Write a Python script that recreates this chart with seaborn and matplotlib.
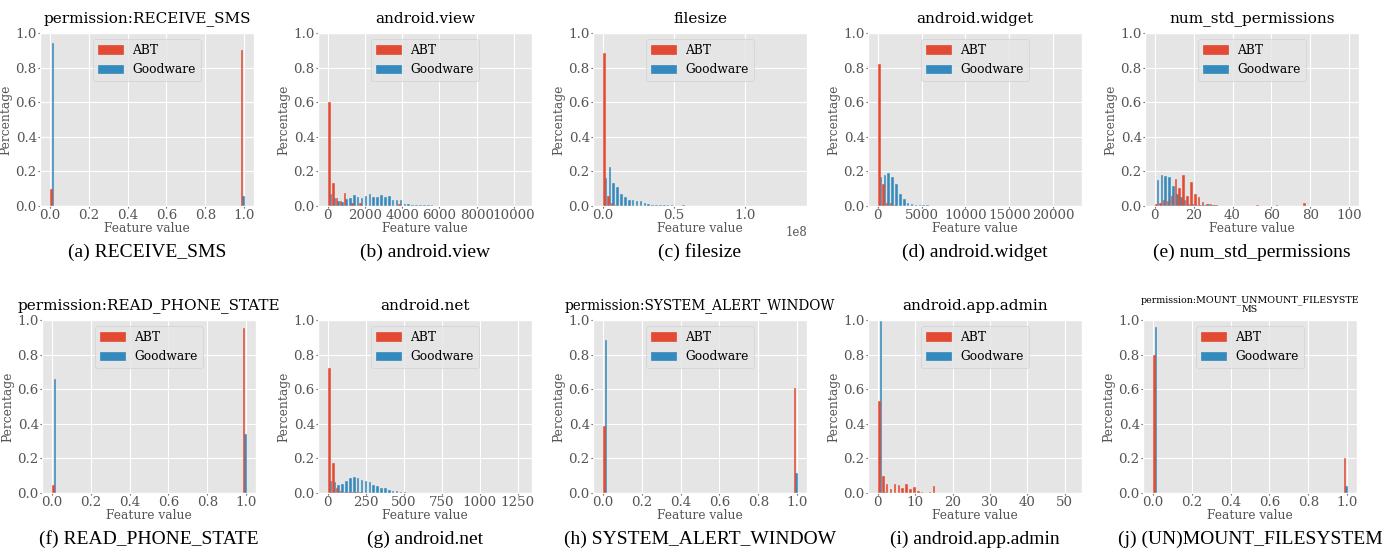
import numpy as np
import pandas as pd
import matplotlib
matplotlib.use("Agg")
import matplotlib.pyplot as plt
from matplotlib.ticker import MaxNLocator
import seaborn as sns
from matplotlib.patches import Patch

# ---------------- data (fraction of samples per histogram bin) ----------------
N_BINS = 50
LABELS = ["ABT", "Goodware"]
COLORS = {"ABT": "#E24A33", "Goodware": "#348ABD"}

# binary features: values 0 and 1
binary_values = [0, 1]
abt_receive_sms = [0.10, 0.90]
gw_receive_sms = [0.945, 0.055]
abt_read_phone_state = [0.045, 0.955]
gw_read_phone_state = [0.66, 0.34]
abt_system_alert = [0.39, 0.605]
gw_system_alert = [0.885, 0.115]
abt_mount = [0.795, 0.205]
gw_mount = [0.962, 0.038]

# continuous features: value per bin (bin 0 upward, remaining bins empty)
max_view = 10450
abt_view = [0.600, 0.134, 0.045, 0.030, 0.078, 0.000, 0.015, 0.000, 0.015, 0.000,
            0.000, 0.000, 0.000, 0.000, 0.000, 0.000, 0.000, 0.000, 0.010]
gw_view = [0.072, 0.045, 0.030, 0.025, 0.040, 0.045, 0.062, 0.052, 0.045, 0.055,
           0.068, 0.052, 0.050, 0.062, 0.050, 0.058, 0.036, 0.032, 0.032, 0.014,
           0.014, 0.008, 0.008, 0.008, 0.004, 0.004, 0.003, 0.002, 0.002, 0.002, 0.001]

max_filesize = 1.37e8
abt_filesize = [0.885, 0.060, 0.015, 0.004, 0.002, 0.002, 0.001]
gw_filesize = [0.162, 0.228, 0.134, 0.110, 0.068, 0.052, 0.036, 0.036, 0.030, 0.030,
               0.020, 0.014, 0.008, 0.006, 0.005, 0.003, 0.003, 0.008, 0.002, 0.002,
               0.003, 0.001, 0.002, 0.001, 0.002, 0.001]

max_widget = 22200
abt_widget = [0.820, 0.126, 0.018, 0.018, 0.004, 0.002, 0.002, 0.001]
gw_widget = [0.168, 0.180, 0.192, 0.168, 0.128, 0.072, 0.042, 0.018, 0.012, 0.008,
             0.006, 0.003, 0.003, 0.002, 0.002, 0.001, 0.001, 0.001]

max_perms = 100
abt_perms = [0.010, 0.018, 0.036, 0.030, 0.056, 0.156, 0.102, 0.180, 0.056, 0.140,
             0.072, 0.052, 0.022, 0.010, 0.010, 0.003, 0.002, 0.001, 0.000, 0.000,
             0.000, 0.000, 0.000, 0.000, 0.000, 0.000, 0.003, 0.002, 0.000, 0.000,
             0.000, 0.003, 0.000, 0.002, 0.000, 0.000, 0.000, 0.000, 0.015]
gw_perms = [0.150, 0.180, 0.174, 0.166, 0.114, 0.072, 0.052, 0.032, 0.014, 0.014,
            0.006, 0.005, 0.003, 0.010, 0.005, 0.003, 0.002, 0.001]

max_net = 1280
abt_net = [0.724, 0.172, 0.027, 0.010, 0.005, 0.004, 0.003, 0.005, 0.004, 0.002,
           0.002, 0.001]
gw_net = [0.070, 0.062, 0.045, 0.050, 0.068, 0.087, 0.090, 0.085, 0.073, 0.070,
          0.062, 0.046, 0.039, 0.031, 0.027, 0.017, 0.014, 0.010, 0.008, 0.004,
          0.002, 0.001]

max_admin = 52
abt_admin = [0.530, 0.097, 0.050, 0.023, 0.050, 0.044, 0.027, 0.050, 0.023, 0.033,
             0.012, 0.004, 0.000, 0.004, 0.040]
gw_admin = [0.996, 0.004]

titles = ["permission:RECEIVE_SMS", "android.view", "filesize", "android.widget",
          "num_std_permissions", "permission:READ_PHONE_STATE", "android.net",
          "permission:SYSTEM_ALERT_WINDOW", "android.app.admin",
          "permission:MOUNT_UNMOUNT_FILESYSTE\nMS"]
title_sizes = [11, 11, 11, 11, 11, 11, 11, 9.8, 11, 6.8]
captions = ["(a) RECEIVE_SMS", "(b) android.view", "(c) filesize", "(d) android.widget",
            "(e) num_std_permissions", "(f) READ_PHONE_STATE", "(g) android.net",
            "(h) SYSTEM_ALERT_WINDOW", "(i) android.app.admin",
            "(j) (UN)MOUNT_FILESYSTEM"]


def binned(abt, gw, vmax):
    """Long-form frame: one weighted sample at the centre of each bin."""
    rows = []
    w = vmax / N_BINS
    for lab, vals in zip(LABELS, (abt, gw)):
        for i, v in enumerate(vals):
            rows.append(((i + 0.5) * w, v, lab))
    return pd.DataFrame(rows, columns=["value", "weight", "source"]), vmax


def binary(abt, gw):
    rows = []
    for lab, vals in zip(LABELS, (abt, gw)):
        for x, v in zip(binary_values, vals):
            rows.append((x, v, lab))
    return pd.DataFrame(rows, columns=["value", "weight", "source"]), 1


datasets = [
    binary(abt_receive_sms, gw_receive_sms),
    binned(abt_view, gw_view, max_view),
    binned(abt_filesize, gw_filesize, max_filesize),
    binned(abt_widget, gw_widget, max_widget),
    binned(abt_perms, gw_perms, max_perms),
    binary(abt_read_phone_state, gw_read_phone_state),
    binned(abt_net, gw_net, max_net),
    binary(abt_system_alert, gw_system_alert),
    binned(abt_admin, gw_admin, max_admin),
    binary(abt_mount, gw_mount),
]

# ---------------- style / layout ----------------
plt.style.use("ggplot")
plt.rcParams["font.family"] = ["DejaVu Serif"]

W, H = 1393, 552
fig = plt.figure(figsize=(W / 100, H / 100), dpi=100)

lefts = [[40, 318, 593, 868, 1145], [42, 318, 593, 868, 1143]]
tops = [33, 320]
ax_w, ax_h = 214, 173
caption_y = [252, 539]

for k, ((df, vmax), title, tsize, cap) in enumerate(zip(datasets, titles, title_sizes, captions)):
    r, c = divmod(k, 5)
    l, t = lefts[r][c], tops[r]
    ax = fig.add_axes([l / W, 1 - (t + ax_h) / H, ax_w / W, ax_h / H])
    sns.histplot(data=df, x="value", weights="weight", hue="source",
                 hue_order=LABELS, palette=COLORS, bins=N_BINS, binrange=(0, vmax),
                 multiple="dodge", shrink=0.8, stat="count", alpha=1,
                 legend=False, ax=ax)
    for p in ax.patches:
        p.set_edgecolor(p.get_facecolor())
        p.set_linewidth(0.4)
    ax.set_ylim(0, 1)
    ax.set_xlim(-0.05 * vmax, 1.05 * vmax)
    ax.xaxis.set_major_locator(MaxNLocator(nbins=6, steps=[1, 2, 2.5, 5, 10]))
    ax.yaxis.set_major_locator(MaxNLocator(nbins=6, steps=[1, 2, 2.5, 5, 10]))
    multi = "\n" in title
    ax.set_title(title, fontsize=tsize, color="black",
                 linespacing=1.0, pad=6 if multi else 7.5)
    ax.set_xlabel("Feature value", fontsize=8.8, labelpad=0)
    ax.set_ylabel("Percentage", fontsize=8.8, labelpad=2)
    ax.tick_params(labelsize=9.6, length=1.5, pad=0.8)
    ax.xaxis.get_offset_text().set_fontsize(8.5)
    ax.legend(handles=[Patch(color=COLORS[s], label=s) for s in LABELS],
              loc="upper center", fontsize=8.8)
    fig.text((l + ax_w / 2) / W, 1 - caption_y[r] / H, cap, ha="center", va="center",
             fontsize=14, family="Liberation Serif")

fig.savefig("out.png", dpi=100)
